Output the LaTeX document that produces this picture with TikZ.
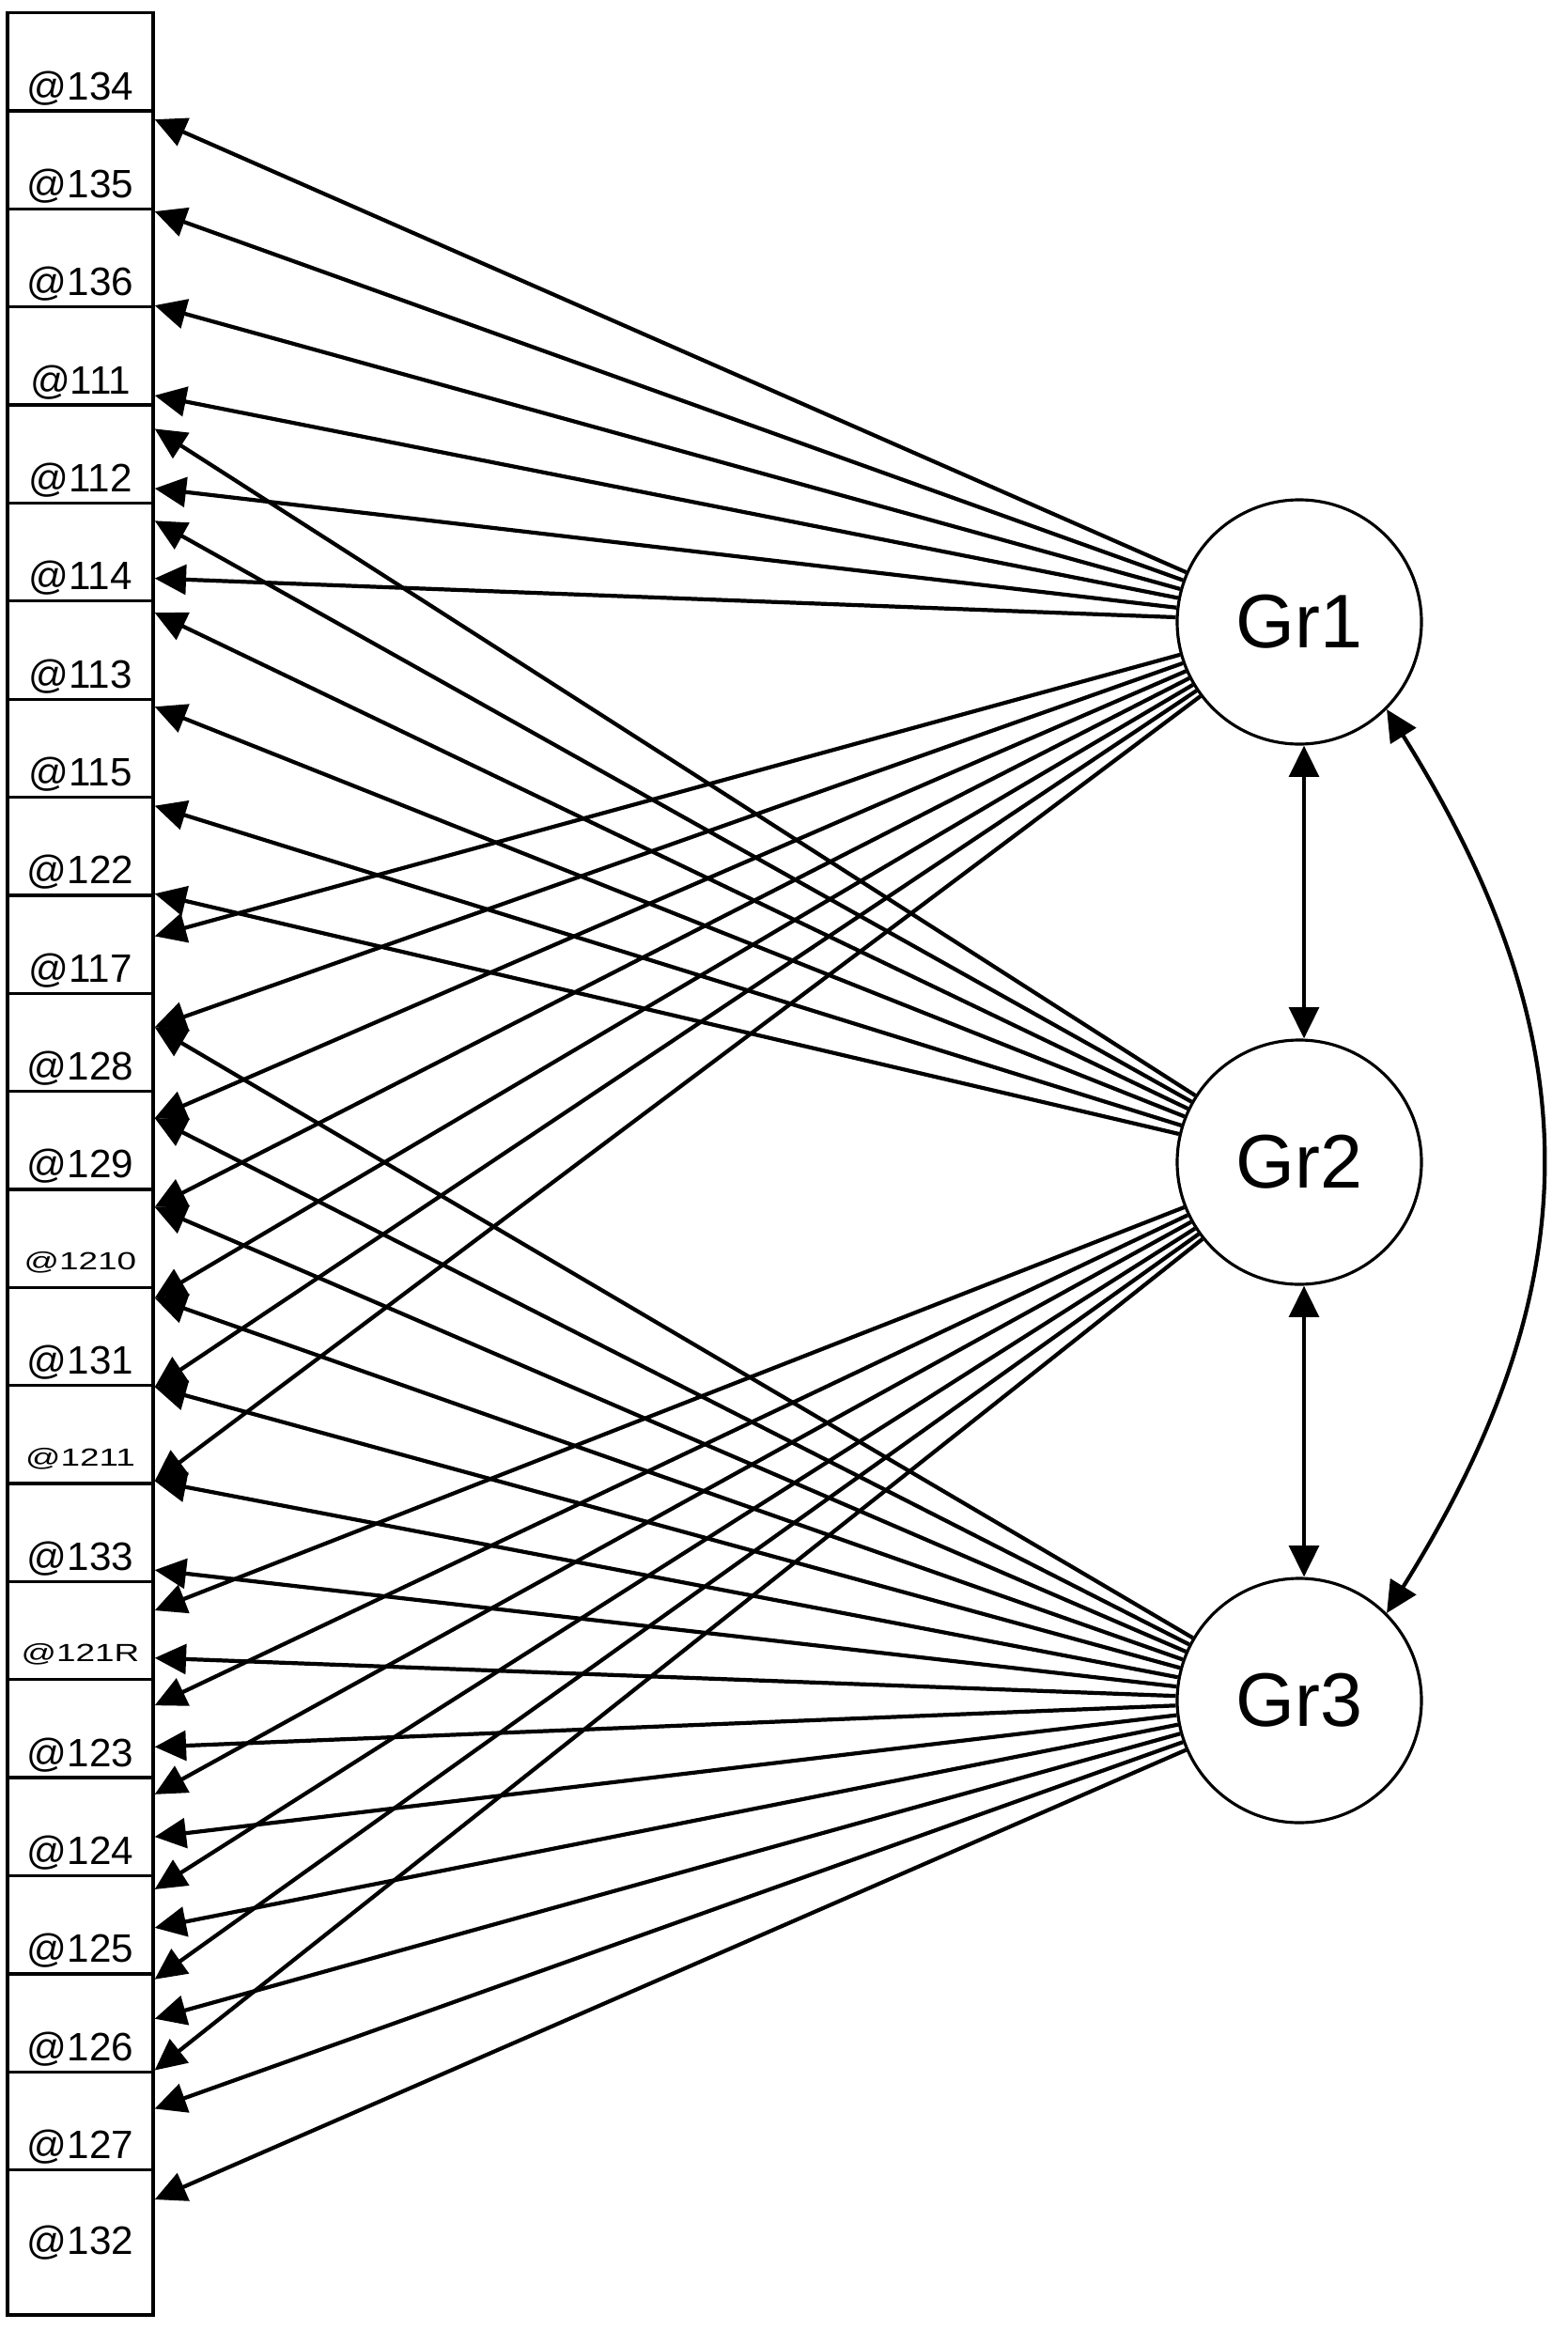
\documentclass[tikz,border=0pt]{standalone}
\usepackage{fontspec}
\setmainfont{Liberation Sans}
\usepackage{graphicx}
\usetikzlibrary{arrows.meta,calc}

\newcommand{\squeezed}[1]{\scalebox{1.05}[0.75]{#1}}

\tikzset{
	item/.style={draw, line width=0.95pt, minimum width=1.55cm, inner xsep=0pt, inner ysep=0pt,
		anchor=north, text height=0.9236cm, text depth=0.12cm, font=\fontsize{12pt}{12pt}\selectfont},
	itemsmall/.style={item, text height=0.8536cm, text depth=0.19cm, font=\fontsize{10pt}{10pt}\selectfont},
	lastitem/.style={draw, line width=0.95pt, minimum width=1.55cm, minimum height=1.5454cm,
		inner sep=0pt, anchor=north, font=\fontsize{12pt}{12pt}\selectfont},
	factor/.style={draw, circle, line width=0.9pt, minimum size=2.6cm, inner sep=0pt,
		font=\fontsize{23pt}{23pt}\selectfont},
	load/.style={line width=1.2pt, -{Triangle[length=9.5pt, width=9pt]}},
	cov/.style={line width=1.2pt, {Triangle[length=9.5pt, width=9pt]}-{Triangle[length=9.5pt, width=9pt]}}
}

\begin{document}
\begin{tikzpicture}
	\useasboundingbox (0,0) rectangle (16.68,-24.80);

	% observed variables
	\foreach \lab/\sty [count=\i from 0] in {@134/item, @135/item, @136/item, @111/item, @112/item,
		@114/item, @113/item, @115/item, @122/item, @117/item, @128/item, @129/item,
		\squeezed{@1210}/itemsmall, @131/item, \squeezed{@1211}/itemsmall, @133/item,
		\squeezed{@121R}/itemsmall, @123/item, @124/item, @125/item, @126/item, @127/item}
		\node[\sty] (v\i) at (0.855,{-0.12-1.0436*\i}) {\lab};
	\node[lastitem] (v22) at (0.855,-23.0792) {@132};

	% factors
	\node[factor] (g1) at (13.83,-6.62) {Gr1};
	\node[factor] (g2) at (13.83,-12.37) {Gr2};
	\node[factor] (g3) at (13.83,-18.10) {Gr3};

	% loadings
	\foreach \g/\v/\f in {g1/1/0.10, g1/2/0.04, g1/3/0.00, g1/3/0.89, g1/4/0.84, g1/5/0.76,
		g1/9/0.42, g1/10/0.35, g1/11/0.28, g1/12/0.19, g1/13/0.12, g1/14/0.03, g1/14/0.96,
		g2/4/0.25, g2/5/0.19, g2/6/0.13, g2/7/0.09, g2/8/0.10, g2/9/0.00,
		g2/16/0.30, g2/17/0.27, g2/18/0.18, g2/19/0.15, g2/20/0.07, g2/21/0.00,
		g3/10/0.35, g3/11/0.28, g3/12/0.19, g3/13/0.12, g3/14/0.03, g3/14/0.96, g3/15/0.87,
		g3/16/0.77, g3/17/0.68, g3/18/0.60, g3/19/0.53, g3/20/0.46, g3/21/0.38, g3/22/0.21}
		\draw[load] (\g) -- ($(v\v.north east)!\f!(v\v.south east)$);

	% covariances
	\draw[cov] ($(g1.south)+(0.05,0)$) -- ($(g2.north)+(0.05,0)$);
	\draw[cov] ($(g2.south)+(0.05,0)$) -- ($(g3.north)+(0.05,0)$);
	\draw[cov] (g1.-45) to[out=-58, in=58, looseness=1.1] (g3.45);
\end{tikzpicture}
\end{document}
